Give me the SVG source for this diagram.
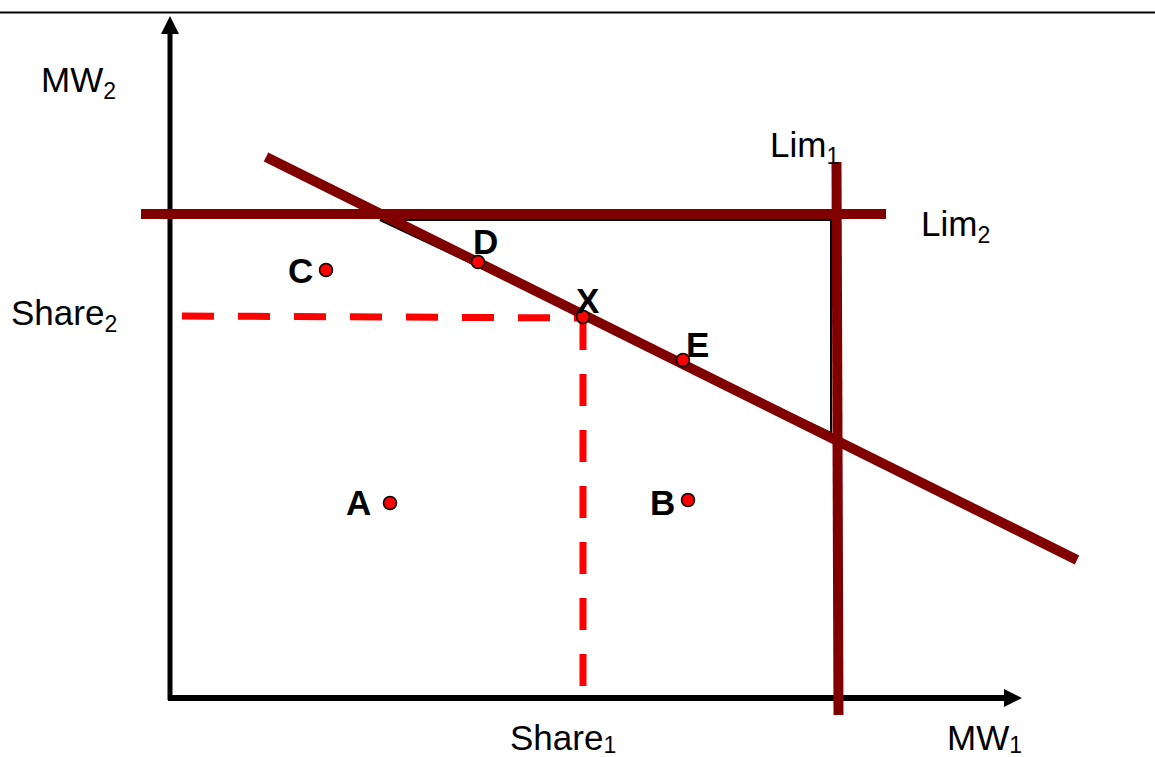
<svg xmlns="http://www.w3.org/2000/svg" width="1155" height="757" viewBox="0 0 1155 757">
<style>
.lim{stroke:#800000;stroke-width:10;fill:none}
.dash{stroke:#ff0000;stroke-width:7;stroke-dasharray:32 24;fill:none}
.pt{fill:#ff0000;stroke:#000;stroke-width:1.5}
.lbl{font-family:"Liberation Sans",Arial,sans-serif;font-size:35px;fill:#000}
.b{font-family:"Liberation Sans",Arial,sans-serif;font-size:35px;font-weight:bold;fill:#000}
.sub{font-size:23px}
</style>
<rect width="1155" height="757" fill="#fff"/>
<line x1="0" y1="12.5" x2="1155" y2="12.5" stroke="#000" stroke-width="2"/>
<g id="axes">
<line x1="170" y1="30" x2="170" y2="700" stroke="#000" stroke-width="5"/>
<polygon points="170,16 161,34 179,34" fill="#000"/>
<line x1="168" y1="698" x2="1008" y2="698" stroke="#000" stroke-width="6"/>
<polygon points="1022,698 1004,689 1004,707" fill="#000"/>
</g>
<g id="connectors">
<polygon points="380,220 831,220 831,433" fill="none" stroke="#000" stroke-width="2"/>
<line class="dash" x1="182" y1="316" x2="583" y2="318"/>
<line class="dash" x1="583" y1="318" x2="583" y2="690"/>
<line id="lim2" class="lim" x1="141" y1="214" x2="886" y2="214"/>
<line id="lim1" class="lim" x1="836.5" y1="162" x2="838.5" y2="715"/>
<line id="frontier" class="lim" x1="266" y1="157" x2="1077" y2="560"/>
</g>
<g id="pointC"><circle class="pt" cx="326" cy="270" r="6.5"/><text class="b" x="288" y="283">C</text></g>
<g id="pointD"><circle class="pt" cx="478" cy="262" r="6.5"/><text class="b" x="473" y="254">D</text></g>
<g id="pointX"><circle class="pt" cx="583" cy="317" r="6.5"/><text class="b" x="576" y="313">X</text></g>
<g id="pointE"><circle class="pt" cx="683" cy="360" r="6.5"/><text class="b" x="686" y="357">E</text></g>
<g id="pointA"><circle class="pt" cx="390" cy="503" r="6.5"/><text class="b" x="346" y="515">A</text></g>
<g id="pointB"><circle class="pt" cx="688" cy="500" r="6.5"/><text class="b" x="650" y="515">B</text></g>
<g id="labels">
<text class="lbl" x="41" y="92">MW<tspan class="sub" dy="7">2</tspan></text>
<text class="lbl" x="11" y="325">Share<tspan class="sub" dy="7">2</tspan></text>
<text class="lbl" x="770" y="157">Lim<tspan class="sub" dy="7">1</tspan></text>
<text class="lbl" x="921" y="236">Lim<tspan class="sub" dy="7">2</tspan></text>
<text class="lbl" x="510" y="750">Share<tspan class="sub" dy="3">1</tspan></text>
<text class="lbl" x="947" y="750">MW<tspan class="sub" dy="3">1</tspan></text>
</g>
</svg>
